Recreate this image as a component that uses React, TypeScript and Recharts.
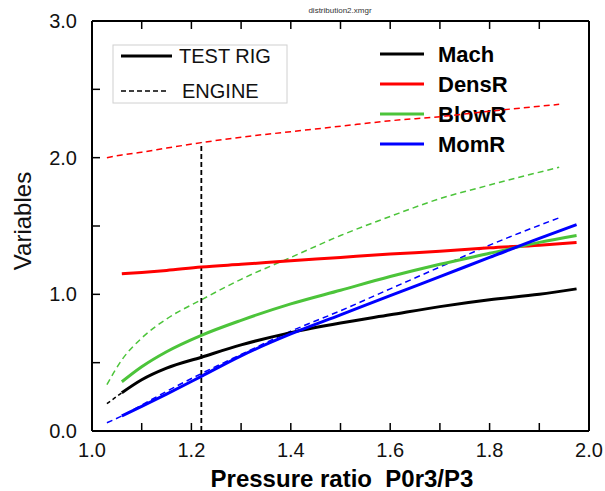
import React from 'react';
import { LineChart, Line, XAxis, YAxis, Customized } from 'recharts';

// Test rig curves
const rigX = [1.06, 1.1, 1.15, 1.22, 1.3, 1.4, 1.5, 1.6, 1.7, 1.8, 1.9, 1.975];
const machRig = [0.28, 0.375, 0.46, 0.54, 0.63, 0.72, 0.79, 0.85, 0.91, 0.96, 1.0, 1.04];
const densRig = [1.15, 1.16, 1.175, 1.2, 1.22, 1.245, 1.27, 1.295, 1.315, 1.34, 1.36, 1.38];
const blowRig = [0.36, 0.47, 0.58, 0.7, 0.81, 0.93, 1.03, 1.13, 1.22, 1.3, 1.38, 1.43];
const momRig = [0.11, 0.18, 0.27, 0.4, 0.55, 0.71, 0.85, 0.99, 1.13, 1.27, 1.41, 1.51];

// Engine curves
const engX = [1.03, 1.06, 1.1, 1.15, 1.22, 1.3, 1.4, 1.5, 1.6, 1.7, 1.8, 1.94];
const densEng = [2.0, 2.02, 2.04, 2.07, 2.11, 2.15, 2.19, 2.23, 2.27, 2.3, 2.34, 2.39];
const blowEng = [0.34, 0.52, 0.68, 0.82, 0.96, 1.11, 1.27, 1.43, 1.57, 1.7, 1.8, 1.93];
const momEng = [0.06, 0.11, 0.19, 0.29, 0.42, 0.56, 0.73, 0.88, 1.04, 1.2, 1.36, 1.56];
const machEngX = [1.03, 1.045, 1.06];
const machEng = [0.2, 0.24, 0.28];

// Design point marker
const designX = [1.22, 1.22];
const designY = [0, 2.11];

const xTicks = [1.0, 1.1, 1.2, 1.3, 1.4, 1.5, 1.6, 1.7, 1.8, 1.9, 2.0];
const xLabelTicks = [1.0, 1.2, 1.4, 1.6, 1.8, 2.0];
const yTicks = [0, 0.5, 1.0, 1.5, 2.0, 2.5, 3.0];
const yLabelTicks = [0, 1.0, 2.0, 3.0];

const seriesNames = ['Mach', 'DensR', 'BlowR', 'MomR'];
const seriesColors = ['#000000', '#ff0000', '#4cc43a', '#0000ff'];
const styleNames = ['TEST RIG', 'ENGINE'];

const zip = (xs: number[], ys: number[]) => xs.map((x, i) => ({ x, y: ys[i] }));

const FONT = '"Liberation Sans", Arial, Helvetica, sans-serif';

const fmtX = (v: number) => (xLabelTicks.some((t) => Math.abs(t - v) < 1e-6) ? v.toFixed(1) : '');
const fmtY = (v: number) => (yLabelTicks.some((t) => Math.abs(t - v) < 1e-6) ? v.toFixed(1) : '');

const Overlay = () => (
  <g fontFamily={FONT}>
    <text x={340} y={13} textAnchor="middle" fontSize={8} fill="#333">distribution2.xmgr</text>
    {/* style legend */}
    <rect x={113} y={45} width={174} height={58} fill="#fff" stroke="#d0d0d0" strokeWidth={1} />
    <line x1={121} x2={172} y1={56} y2={56} stroke="#000" strokeWidth={3} />
    <text x={179} y={56} dominantBaseline="central" fontSize={20} fill="#111">{styleNames[0]}</text>
    <line x1={121} x2={167} y1={91} y2={91} stroke="#000" strokeWidth={1.3} strokeDasharray="5 3" />
    <text x={182} y={91} dominantBaseline="central" fontSize={20} fill="#111">{styleNames[1]}</text>
    {/* series legend */}
    {seriesNames.map((n, i) => (
      <g key={n}>
        <line x1={380} x2={424} y1={54 + i * 30} y2={54 + i * 30} stroke={seriesColors[i]} strokeWidth={3} />
        <text x={438} y={54 + i * 30} dominantBaseline="central" fontSize={22} fontWeight="bold" fill="#000">{n}</text>
      </g>
    ))}
    <text x={342} y={478} textAnchor="middle" dominantBaseline="central" fontSize={24} fontWeight="bold" fill="#000">{'Pressure ratio\u00A0\u00A0P0r3/P3'}</text>
    <text x={22} y={221} textAnchor="middle" dominantBaseline="central" fontSize={24} fill="#111" transform="rotate(-90 22 221)">Variables</text>
  </g>
);

const tickStyle = { fontSize: 20, fill: '#111', fontFamily: FONT };

export default function App() {
  return (
    <div style={{ position: 'absolute', left: 0, top: 0, width: 605, height: 491, background: '#fff' }}>
      <LineChart width={605} height={491} margin={{ top: 20, right: 15, bottom: 0, left: 0 }}>
        <XAxis
          xAxisId="b"
          type="number"
          dataKey="x"
          domain={[1, 2]}
          ticks={xTicks}
          tickFormatter={fmtX}
          orientation="bottom"
          height={60}
          tickSize={-8}
          tickMargin={20}
          interval={0}
          allowDataOverflow
          axisLine={{ stroke: '#000', strokeWidth: 2 }}
          tickLine={{ stroke: '#000', strokeWidth: 1.5 }}
          tick={tickStyle}
        />
        <XAxis
          xAxisId="t"
          type="number"
          dataKey="x"
          domain={[1, 2]}
          ticks={xTicks}
          tickFormatter={() => ''}
          orientation="top"
          height={1}
          tickSize={-8}
          interval={0}
          allowDataOverflow
          axisLine={{ stroke: '#000', strokeWidth: 2 }}
          tickLine={{ stroke: '#000', strokeWidth: 1.5 }}
        />
        <YAxis
          yAxisId="l"
          type="number"
          domain={[0, 3]}
          ticks={yTicks}
          tickFormatter={fmtY}
          width={92}
          tickSize={-8}
          tickMargin={23}
          interval={0}
          allowDataOverflow
          axisLine={{ stroke: '#000', strokeWidth: 2 }}
          tickLine={{ stroke: '#000', strokeWidth: 1.5 }}
          tick={tickStyle}
        />
        <YAxis
          yAxisId="r"
          orientation="right"
          type="number"
          domain={[0, 3]}
          width={1}
          tick={false}
          tickLine={false}
          axisLine={{ stroke: '#000', strokeWidth: 2 }}
        />
        {/* engine (dashed) */}
        <Line xAxisId="b" yAxisId="l" data={zip(engX, densEng)} dataKey="y" type="monotone" stroke={seriesColors[1]} strokeWidth={1.5} strokeDasharray="6 4" dot={false} isAnimationActive={false} />
        <Line xAxisId="b" yAxisId="l" data={zip(engX, blowEng)} dataKey="y" type="monotone" stroke={seriesColors[2]} strokeWidth={1.5} strokeDasharray="6 4" dot={false} isAnimationActive={false} />
        <Line xAxisId="b" yAxisId="l" data={zip(engX, momEng)} dataKey="y" type="monotone" stroke={seriesColors[3]} strokeWidth={1.5} strokeDasharray="6 4" dot={false} isAnimationActive={false} />
        <Line xAxisId="b" yAxisId="l" data={zip(machEngX, machEng)} dataKey="y" type="monotone" stroke={seriesColors[0]} strokeWidth={1.5} strokeDasharray="4 3" dot={false} isAnimationActive={false} />
        <Line xAxisId="b" yAxisId="l" data={zip(designX, designY)} dataKey="y" type="linear" stroke="#000" strokeWidth={1.8} strokeDasharray="5 3" dot={false} isAnimationActive={false} />
        {/* test rig (solid) */}
        <Line xAxisId="b" yAxisId="l" data={zip(rigX, densRig)} dataKey="y" type="monotone" stroke={seriesColors[1]} strokeWidth={3} dot={false} isAnimationActive={false} />
        <Line xAxisId="b" yAxisId="l" data={zip(rigX, blowRig)} dataKey="y" type="monotone" stroke={seriesColors[2]} strokeWidth={3} dot={false} isAnimationActive={false} />
        <Line xAxisId="b" yAxisId="l" data={zip(rigX, machRig)} dataKey="y" type="monotone" stroke={seriesColors[0]} strokeWidth={3} dot={false} isAnimationActive={false} />
        <Line xAxisId="b" yAxisId="l" data={zip(rigX, momRig)} dataKey="y" type="monotone" stroke={seriesColors[3]} strokeWidth={3} dot={false} isAnimationActive={false} />
        <Customized component={Overlay} />
      </LineChart>
    </div>
  );
}
